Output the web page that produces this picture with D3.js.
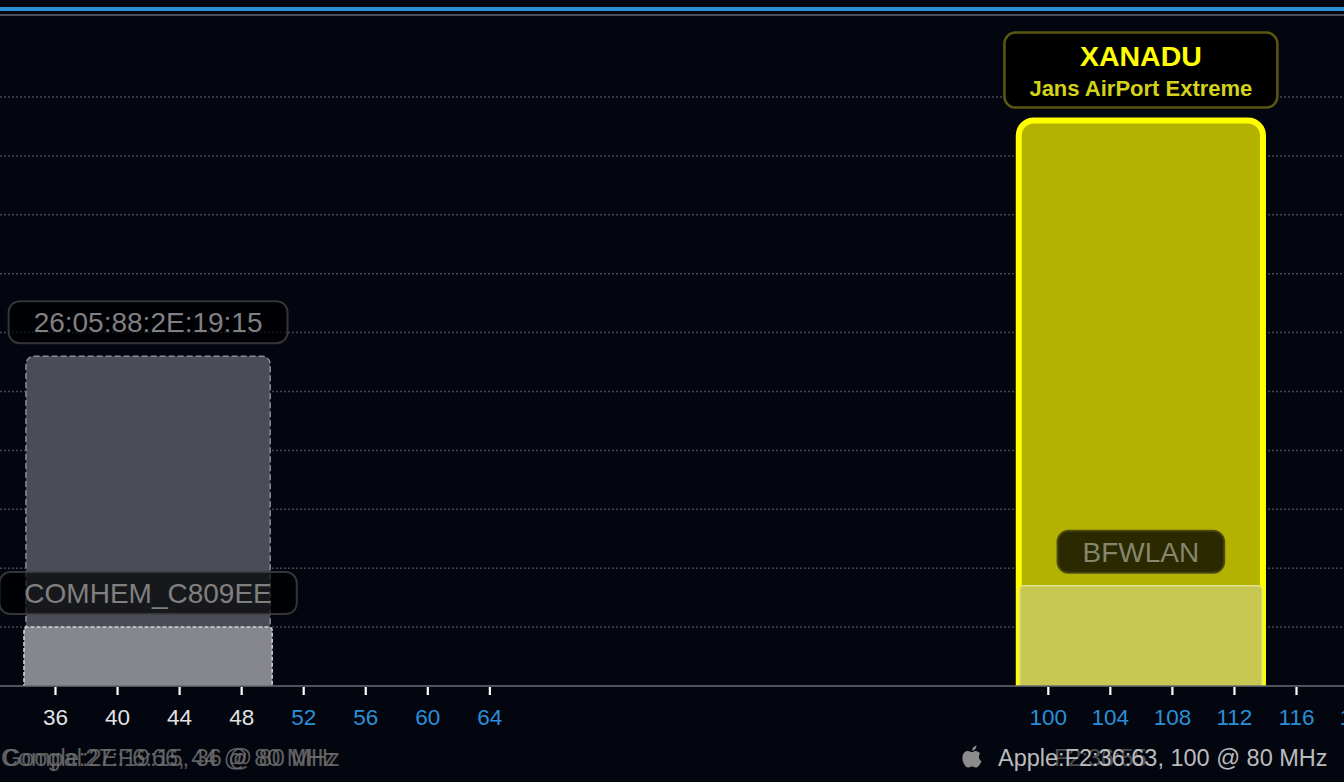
<!DOCTYPE html>
<html>
<head>
<meta charset="utf-8">
<script src="https://cdn.jsdelivr.net/npm/d3@7"></script>
<style>
  html, body { margin: 0; padding: 0; background: #03050f; overflow: hidden; }
  svg { display: block; font-family: "Liberation Sans", Arial, Helvetica, sans-serif; }
</style>
</head>
<body>
<script>
// ---------------- DATA ----------------
const ssids        = ["26:05:88:2E:19:15", "COMHEM_C809EE", "XANADU", "BFWLAN"];
const subtitles    = ["", "", "Jans AirPort Extreme", ""];
const centerChans  = [42, 42, 106, 106];
const widthsMHz    = [80, 80, 80, 80];
const signalsDbm   = [-44, -90, -4, -83];
const currentNet   = "XANADU";

const tickChannels = [36, 40, 44, 48, 52, 56, 60, 64, 100, 104, 108, 112, 116, 120];
const dfsChannels  = [52, 56, 60, 64, 100, 104, 108, 112, 116, 120, 124, 128, 132, 136, 140, 144];
const gridLevels   = [-90, -80, -70, -60, -50, -40, -30, -20, -10, 0];

const footerLeft   = ["Compal:2E:19:15, 36 @ 80 MHz", "Google:27:F6:66, 44 @ 80 MHz"];
const footerRight  = "Apple:F2:36:63, 100 @ 80 MHz";
const footerRightGhost = "F2:36:55";

// ---------------- SETUP ----------------
const W = 1344, H = 782;
const svg = d3.select("body").append("svg").attr("width", W).attr("height", H);
svg.append("rect").attr("width", W).attr("height", H).attr("fill", "#03050f");

const x = d3.scaleLinear().domain([36, 116]).range([55, 1296]);
const y = d3.scaleLinear().domain([-100, 0]).range([686, 97]);
const baseY = y(-100);

// top lines
svg.append("line").attr("x1", 0).attr("x2", W).attr("y1", 9).attr("y2", 9)
  .attr("stroke", "#2b8fd6").attr("stroke-width", 4);
svg.append("line").attr("x1", 0).attr("x2", W).attr("y1", 15).attr("y2", 15)
  .attr("stroke", "#4b4e57").attr("stroke-width", 2);

// grid
svg.append("g").selectAll("line").data(gridLevels).join("line")
  .attr("x1", 0).attr("x2", W)
  .attr("y1", d => y(d)).attr("y2", d => y(d))
  .attr("stroke", "#424650").attr("stroke-width", 1.5)
  .attr("stroke-dasharray", "2,2");

// clip for bars
svg.append("defs").append("clipPath").attr("id", "plotclip")
  .append("rect").attr("x", 0).attr("y", 0).attr("width", W).attr("height", baseY);

function topRounded(x0, x1, yt, yb, r) {
  const p = d3.path();
  p.moveTo(x0, yb);
  p.lineTo(x0, yt + r);
  p.arcTo(x0, yt, x0 + r, yt, r);
  p.lineTo(x1 - r, yt);
  p.arcTo(x1, yt, x1, yt + r, r);
  p.lineTo(x1, yb);
  return p.toString();
}

const barStyle = {
  "26:05:88:2E:19:15": { fill: "#4a4d56", stroke: "#8c8d93", sw: 1.5, dash: "6,3", r: 8, inset: 2 },
  "COMHEM_C809EE":     { fill: "#86878c", stroke: "#d5d5d8", sw: 1.5, dash: "4,2", r: 3, inset: 0 },
  "XANADU":            { fill: "#b4b200", stroke: "#ffff00", sw: 6, dash: null, r: 15, inset: 2 },
  "BFWLAN":            { fill: "#c8c752", stroke: "#e0df8c", sw: 1.5, dash: null, r: 4, inset: 3 }
};

const labelStyle = {
  normal:  { fill: "rgba(0,0,0,0.68)", stroke: "rgba(62,62,66,0.85)", sw: 2, text: "#808080" },
  onColor: { fill: "rgba(0,0,0,0.77)", stroke: "rgba(70,70,20,0.9)", sw: 2, text: "#86866f" },
  current: { fill: "#000000", stroke: "#5a5712", sw: 2.5, text: "#ffff00", sub: "#d4d21a" }
};

ssids.forEach((name, i) => {
  const half = widthsMHz[i] / 10;
  const st = barStyle[name];
  const x0 = x(centerChans[i] - half) + st.inset;
  const x1 = x(centerChans[i] + half) - st.inset;
  const yt = y(signalsDbm[i]);
  const g = svg.append("g");
  g.append("path")
    .attr("clip-path", "url(#plotclip)")
    .attr("d", topRounded(x0, x1, yt, baseY + 8, st.r))
    .attr("fill", st.fill)
    .attr("stroke", st.stroke)
    .attr("stroke-width", st.sw)
    .attr("stroke-dasharray", st.dash);

  // label
  const cx = (x(centerChans[i] - half) + x(centerChans[i] + half)) / 2;
  const isCur = name === currentNet;
  const ls = isCur ? labelStyle.current : (i === 3 ? labelStyle.onColor : labelStyle.normal);
  const lg = g.append("g");
  const box = lg.append("rect");
  const boxBottom = yt - 13;
  if (isCur) {
    const t1 = lg.append("text").text(name).attr("x", cx).attr("text-anchor", "middle")
      .attr("font-size", 28.5).attr("font-weight", "bold").attr("fill", ls.text);
    const t2 = lg.append("text").text(subtitles[i]).attr("x", cx).attr("text-anchor", "middle")
      .attr("font-size", 22).attr("font-weight", "bold").attr("fill", ls.sub);
    const h = 75;
    const top = boxBottom - h;
    t1.attr("y", top + 33);
    t2.attr("y", top + 63);
    const w = Math.max(t1.node().getComputedTextLength(), t2.node().getComputedTextLength()) + 50;
    box.attr("x", cx - w / 2).attr("y", top).attr("width", w).attr("height", h);
  } else {
    const t = lg.append("text").text(name).attr("x", cx).attr("text-anchor", "middle")
      .attr("font-size", 28).attr("fill", ls.text);
    const h = 42;
    const top = boxBottom - h;
    t.attr("y", top + 31);
    const w = t.node().getComputedTextLength() + 50;
    box.attr("x", cx - w / 2).attr("y", top).attr("width", w).attr("height", h);
  }
  box.attr("rx", 11).attr("ry", 11)
    .attr("fill", ls.fill).attr("stroke", ls.stroke).attr("stroke-width", ls.sw);
});

// x axis baseline
svg.append("line").attr("x1", 0).attr("x2", W).attr("y1", baseY).attr("y2", baseY)
  .attr("stroke", "#6a6d76").attr("stroke-width", 1.5);

// ticks
const axisG = svg.append("g").attr("transform", `translate(0,${baseY})`)
  .call(d3.axisBottom(x).tickValues(tickChannels).tickSize(9).tickPadding(14).tickSizeOuter(0));
axisG.select(".domain").remove();
axisG.selectAll(".tick line").attr("stroke", "#ffffff").attr("stroke-width", 2.2).attr("y1", 1);
axisG.selectAll(".tick text")
  .attr("font-size", 22.5)
  .attr("font-family", "\"Liberation Sans\", Arial, sans-serif")
  .attr("fill", d => dfsChannels.includes(d) ? "#2b8fd6" : "#e2e2e2");

// footer
footerLeft.forEach((t, i) => {
  svg.append("text").text(t).attr("x", i === 0 ? 1 : 3).attr("y", 766)
    .attr("font-size", 23.5).attr("fill", "#6f6f6f").attr("opacity", 0.85);
});

// apple logo (decorative)
const logo = svg.append("g").attr("transform", "translate(972,757)").attr("fill", "#8c8c8c");
logo.append("path").attr("d",
  "M-1,-5 C-4,-7 -9,-6 -9.5,0 C-10,6 -6,11 -3.5,10.5 C-2,10 -0.5,9.5 0,9.5 C0.5,9.5 2,10 3.5,10.5 C6,11 8.5,7 9.5,4 C7,3 6,-1 8,-3.5 C6.5,-6 3,-7 1,-5 Z");
logo.append("path").attr("d", "M0,-6 C0,-9 2,-11 4.5,-11.5 C4.5,-8.5 2.5,-6.5 0,-6 Z");

svg.append("text").text(footerRightGhost).attr("x", 1054).attr("y", 766)
  .attr("font-size", 23.5).attr("fill", "#8a8a8a").attr("opacity", 0.55);
svg.append("text").text(footerRight).attr("x", 998).attr("y", 766)
  .attr("font-size", 23.5).attr("fill", "#cfcfcf").attr("opacity", 0.9);
</script>
</body>
</html>
